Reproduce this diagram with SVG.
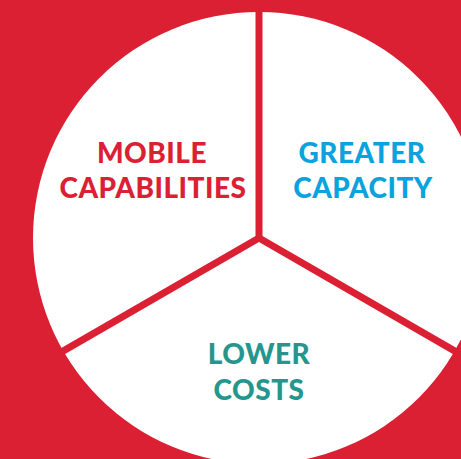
<svg xmlns="http://www.w3.org/2000/svg" width="461" height="459" viewBox="0 0 461 459">
<style>
.lbl{font-family:Lato,"Open Sans","Liberation Sans",sans-serif;font-weight:900;font-size:28px;text-anchor:middle;letter-spacing:0.5px}
.red{fill:#DB2034}
.blue{fill:#0BA3DD}
.teal{fill:#24968D}
.spoke{stroke:#DB2034;stroke-width:7;stroke-linecap:butt;fill:none}
</style>
<rect x="0" y="0" width="461" height="459" fill="#DB2034"/>
<g id="wheel">
<circle cx="259" cy="238" r="226" fill="#FFFFFF"/>
</g>
<g id="connectors">
<line class="spoke" x1="259" y1="238" x2="259" y2="0"/>
<line class="spoke" x1="259" y1="238" x2="40" y2="364.4"/>
<line class="spoke" x1="259" y1="238" x2="478" y2="364.4"/>
</g>
<g id="mobile">
<text class="lbl red" x="152" y="163">MOBILE</text>
<text class="lbl red" x="153" y="198">CAPABILITIES</text>
</g>
<g id="greater">
<text class="lbl blue" x="362" y="163">GREATER</text>
<text class="lbl blue" x="363" y="198">CAPACITY</text>
</g>
<g id="lower">
<text class="lbl teal" x="259" y="364">LOWER</text>
<text class="lbl teal" x="259" y="400">COSTS</text>
</g>
</svg>
